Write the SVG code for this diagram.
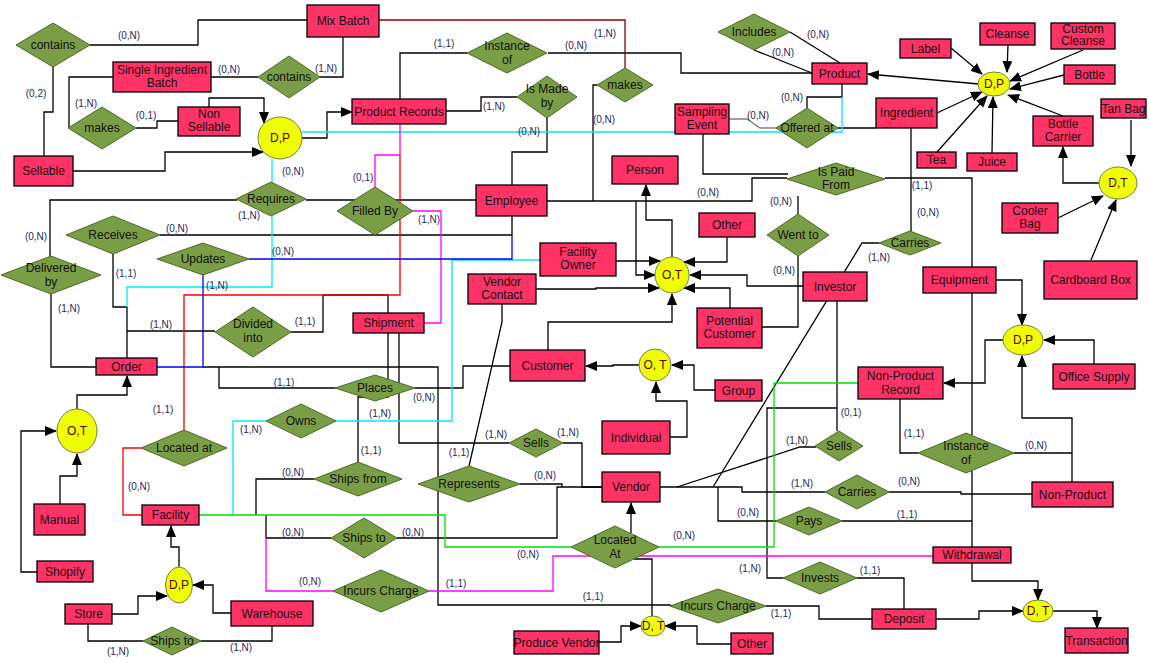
<svg xmlns="http://www.w3.org/2000/svg" width="1149" height="663" viewBox="0 0 1149 663">
<style>
.e rect{fill:#FF3366;stroke:#000;stroke-width:1.3}
.r polygon{fill:#7A9E46;stroke:#4B6B25;stroke-width:1}
.c ellipse{fill:#EEFF00;stroke:#7A7A50;stroke-width:1}
text{font-family:"Liberation Sans",Arial,sans-serif;font-size:12px;text-anchor:middle;fill:#111}
.c text{fill:#5A0000}
.lb text{font-size:10px;fill:#1F2A5A}
#connectors path{fill:none;stroke:#000;stroke-width:1.3}
#connectors path.cy{stroke:#00E8FF}
#connectors path.mg{stroke:#FF00FF}
#connectors path.rd{stroke:#FF0000}
#connectors path.dr{stroke:#8B0000}
#connectors path.gn{stroke:#00E000}
#connectors path.bl{stroke:#0000EE}
#connectors path.gy{stroke:#808080}
</style>
<defs>
<marker id="a" markerWidth="12" markerHeight="10" refX="11" refY="5" orient="auto" markerUnits="userSpaceOnUse"><path d="M0,0 L12,5 L0,10 z" fill="#000"/></marker>
</defs>
<rect width="1149" height="663" fill="#fff"/>
<g id="connectors">
<path d="M90,45 H198 V20 H307"/>
<path d="M53,67 V112 H44 V156"/>
<path d="M113,77 H69 V128"/>
<path d="M211,77 H258"/>
<path d="M136,128 H157 V121 H178"/>
<path d="M209,107 V98 H264 V123" marker-end="url(#a)"/>
<path d="M73,171 H165 V152 H263" marker-end="url(#a)"/>
<path d="M343,37 V77 H319"/>
<path d="M400,99 V53 H467"/>
<path d="M548,53 H681 V73 H812"/>
<path d="M446,111 H481 V97 H517"/>
<path d="M302,138 H327 V112 H352" marker-end="url(#a)"/>
<path d="M790,32 L840,63"/>
<path d="M754,50 L812,73"/>
<path d="M842,84 V97 H807 V108"/>
<path d="M838,128 H876"/>
<path class="gy" d="M729,119 H747 L760,128 H777"/>
<path d="M547,118 V152 H512 V185"/>
<path d="M237,200 H50 V256"/>
<path d="M306,200 H476"/>
<path d="M547,201 H752 V178 H787"/>
<path d="M593,201 V85 H597"/>
<path d="M636,201 V275 H655" marker-end="url(#a)"/>
<path d="M672,257 V220 H646 V185" marker-end="url(#a)"/>
<path d="M703,134 V174 H788"/>
<path d="M885,178 H972 V547"/>
<path d="M798,196 V214"/>
<path d="M762,327 H798 V256"/>
<path d="M911,128 V231"/>
<path d="M879,243 H862 L713,487"/>
<path d="M160,235 H512 V216"/>
<path d="M127,307 H113 V254"/>
<path d="M127,358 V307"/>
<path d="M127,331 H215"/>
<path d="M51,294 V367 H96"/>
<path d="M291,332 H323 V295 H388 V313"/>
<path d="M203,367 H438 V605 H671"/>
<path d="M219,367 V388 H335"/>
<path d="M77,409 V395 H127 V376" marker-end="url(#a)"/>
<path d="M37,572 H21 V431 H56" marker-end="url(#a)"/>
<path d="M60,504 V476 H77 V454" marker-end="url(#a)"/>
<path d="M415,388 H463 V366 H510"/>
<path d="M358,462 V397 H388 V333"/>
<path d="M399,333 V443 H509"/>
<path d="M563,443 H582 V487 H602"/>
<path d="M502,304 V322 L469,466"/>
<path d="M520,484 H562 V487"/>
<path d="M397,538 H557 V487 H602"/>
<path d="M256,515 V479 H314"/>
<path d="M266,515 V538 H331"/>
<path d="M548,350 V322 H672 V294" marker-end="url(#a)"/>
<path d="M616,261 H660" marker-end="url(#a)"/>
<path d="M536,289 H596 V288 H659" marker-end="url(#a)"/>
<path d="M727,237 V262 H684" marker-end="url(#a)"/>
<path d="M803,286 H747 V275 H690" marker-end="url(#a)"/>
<path d="M730,308 V288 H684" marker-end="url(#a)"/>
<path d="M639,365 H613 V366 H586" marker-end="url(#a)"/>
<path d="M715,390 H694 V365 H672" marker-end="url(#a)"/>
<path d="M670,437 H687 V401 H656 V382" marker-end="url(#a)"/>
<path d="M660,487 H742 V492 H825"/>
<path d="M718,487 V521 H776"/>
<path d="M816,447 H800 L677,487"/>
<path d="M837,301 V431"/>
<path d="M837,408 H767 V578 H783"/>
<path d="M842,521 H972"/>
<path d="M889,492 H961 V494 H1032"/>
<path d="M900,399 V453 H918"/>
<path d="M1014,453 H1072"/>
<path d="M1072,482 V418 H1022 V356" marker-end="url(#a)"/>
<path d="M1003,340 H985 V383 H944" marker-end="url(#a)"/>
<path d="M996,280 H1022 V325" marker-end="url(#a)"/>
<path d="M1094,364 V340 H1044" marker-end="url(#a)"/>
<path d="M857,578 H904 V609"/>
<path d="M972,563 V581 H1038 V600" marker-end="url(#a)"/>
<path d="M936,619 H979 V611 H1023" marker-end="url(#a)"/>
<path d="M1053,611 H1097 V628" marker-end="url(#a)"/>
<path d="M766,606 H819 V619 H872"/>
<path d="M631,533 V503" marker-end="url(#a)"/>
<path d="M634,559 H652 V616"/>
<path d="M599,642 H621 V626 H641" marker-end="url(#a)"/>
<path d="M731,644 H697 V626 H665" marker-end="url(#a)"/>
<path d="M179,567 V547 H171 V526" marker-end="url(#a)"/>
<path d="M112,614 H138 V596 H167" marker-end="url(#a)"/>
<path d="M231,613 H213 V585 H193" marker-end="url(#a)"/>
<path d="M88,624 V641 H143"/>
<path d="M201,641 H272 V626"/>
<path d="M979,84 L868,74" marker-end="url(#a)"/>
<path d="M951,48 L982,74" marker-end="url(#a)"/>
<path d="M1008,45 L1007,72" marker-end="url(#a)"/>
<path d="M1083,50 L1010,81" marker-end="url(#a)"/>
<path d="M1064,75 L1010,89" marker-end="url(#a)"/>
<path d="M1063,116 L1008,95" marker-end="url(#a)"/>
<path d="M992,153 L993,97" marker-end="url(#a)"/>
<path d="M937,152 L987,96" marker-end="url(#a)"/>
<path d="M937,113 L982,92" marker-end="url(#a)"/>
<path d="M1099,183 H1063 V147" marker-end="url(#a)"/>
<path d="M1131,120 V166" marker-end="url(#a)"/>
<path d="M1058,218 L1103,196" marker-end="url(#a)"/>
<path d="M1091,260 L1116,200" marker-end="url(#a)"/>
<path class="cy" d="M302,132 H842 V97"/>
<path class="cy" d="M272,159 V287 H127 V307"/>
<path class="cy" d="M233,515 V421 H266"/>
<path class="cy" d="M335,421 H452 V260 H540"/>
<path class="mg" d="M400,124 V155 H375 V187"/>
<path class="mg" d="M413,211 H441 V323 H424"/>
<path class="mg" d="M266,538 V591 H333"/>
<path class="mg" d="M429,591 H553 V556 H933"/>
<path class="rd" d="M400,155 V295 H184 V430"/>
<path class="rd" d="M141,448 H123 V515 H142"/>
<path class="dr" d="M379,20 H625 V68"/>
<path class="gn" d="M199,515 H445 V547 H571"/>
<path class="gn" d="M659,547 H774 V383 H858"/>
<path class="bl" d="M157,367 H203 V275"/>
<path class="bl" d="M249,259 H512 V235"/>
</g>
<g class="lb" id="labels">
<text x="129" y="39">(0,N)</text>
<text x="36" y="97">(0,2)</text>
<text x="86" y="107">(1,N)</text>
<text x="229" y="73">(0,N)</text>
<text x="146" y="119">(0,1)</text>
<text x="326" y="72">(1,N)</text>
<text x="444" y="47">(1,1)</text>
<text x="576" y="49">(0,N)</text>
<text x="605" y="37">(1,N)</text>
<text x="494" y="110">(1,N)</text>
<text x="529" y="135">(0,N)</text>
<text x="604" y="123">(0,N)</text>
<text x="818" y="38">(0,N)</text>
<text x="783" y="56">(0,N)</text>
<text x="758" y="119">(0,N)</text>
<text x="792" y="101">(0,N)</text>
<text x="293" y="175">(0,N)</text>
<text x="249" y="219">(1,N)</text>
<text x="363" y="181">(0,1)</text>
<text x="429" y="223">(1,N)</text>
<text x="708" y="196">(0,N)</text>
<text x="781" y="205">(0,N)</text>
<text x="922" y="189">(1,1)</text>
<text x="928" y="216">(0,N)</text>
<text x="36" y="240">(0,N)</text>
<text x="177" y="232">(0,N)</text>
<text x="283" y="255">(0,N)</text>
<text x="126" y="277">(1,1)</text>
<text x="217" y="289">(1,N)</text>
<text x="69" y="312">(1,N)</text>
<text x="161" y="328">(1,N)</text>
<text x="305" y="325">(1,1)</text>
<text x="784" y="274">(0,N)</text>
<text x="879" y="261">(1,N)</text>
<text x="284" y="386">(1,1)</text>
<text x="424" y="401">(0,N)</text>
<text x="380" y="417">(1,N)</text>
<text x="251" y="433">(1,N)</text>
<text x="163" y="413">(1,1)</text>
<text x="496" y="438">(1,N)</text>
<text x="568" y="436">(1,N)</text>
<text x="851" y="416">(0,1)</text>
<text x="797" y="444">(1,N)</text>
<text x="914" y="437">(1,1)</text>
<text x="1036" y="449">(0,N)</text>
<text x="139" y="490">(0,N)</text>
<text x="293" y="476">(0,N)</text>
<text x="371" y="454">(1,1)</text>
<text x="459" y="456">(1,1)</text>
<text x="545" y="479">(0,N)</text>
<text x="802" y="487">(1,N)</text>
<text x="909" y="485">(0,N)</text>
<text x="748" y="516">(0,N)</text>
<text x="907" y="518">(1,1)</text>
<text x="293" y="536">(0,N)</text>
<text x="413" y="536">(0,N)</text>
<text x="528" y="558">(0,N)</text>
<text x="684" y="539">(0,N)</text>
<text x="310" y="585">(0,N)</text>
<text x="456" y="587">(1,1)</text>
<text x="750" y="572">(1,N)</text>
<text x="870" y="574">(1,1)</text>
<text x="593" y="600">(1,1)</text>
<text x="781" y="617">(1,1)</text>
<text x="118" y="655">(1,N)</text>
<text x="241" y="651">(1,N)</text>
</g>
<g id="contains1" class="r"><polygon points="16,45 53,23 90,45 53,67"/><text x="53" y="49">contains</text></g>
<g id="contains2" class="r"><polygon points="258,77 289,56 320,77 289,98"/><text x="289" y="81">contains</text></g>
<g id="makes1" class="r"><polygon points="68,128 102,107 136,128 102,149"/><text x="102" y="132">makes</text></g>
<g id="instanceOf1" class="r"><polygon points="467,53 507,33 547,53 507,73"/><text x="507" y="50">Instance<tspan x="507" dy="14">of</tspan></text></g>
<g id="isMadeBy" class="r"><polygon points="517,97 547,76 577,97 547,118"/><text x="547" y="93">Is Made<tspan x="547" dy="14">by</tspan></text></g>
<g id="makes2" class="r"><polygon points="597,85 625,68 653,85 625,102"/><text x="625" y="89">makes</text></g>
<g id="includes" class="r"><polygon points="718,32 754,14 790,32 754,50"/><text x="754" y="36">Includes</text></g>
<g id="offeredAt" class="r"><polygon points="776,128 807,108 838,128 807,148"/><text x="807" y="132">Offered at</text></g>
<g id="isPaidFrom" class="r"><polygon points="787,179 836,163 885,179 836,195"/><text x="836" y="176">Is Paid<tspan x="836" dy="13">From</tspan></text></g>
<g id="requires" class="r"><polygon points="236,199 271,182 306,199 271,216"/><text x="271" y="203">Requires</text></g>
<g id="filledBy" class="r"><polygon points="337,211 375,187 413,211 375,235"/><text x="375" y="215">Filled By</text></g>
<g id="receives" class="r"><polygon points="66,235 113,216 160,235 113,254"/><text x="113" y="239">Receives</text></g>
<g id="updates" class="r"><polygon points="157,259 203,243 249,259 203,275"/><text x="203" y="263">Updates</text></g>
<g id="deliveredBy" class="r"><polygon points="1,275 51,256 101,275 51,294"/><text x="51" y="272">Delivered<tspan x="51" dy="14">by</tspan></text></g>
<g id="dividedInto" class="r"><polygon points="215,332 253,307 291,332 253,357"/><text x="253" y="328">Divided<tspan x="253" dy="14">into</tspan></text></g>
<g id="wentTo" class="r"><polygon points="767,235 798,214 829,235 798,256"/><text x="798" y="239">Went to</text></g>
<g id="carries1" class="r"><polygon points="879,243 910,231 941,243 910,255"/><text x="910" y="247">Carries</text></g>
<g id="places" class="r"><polygon points="335,388 375,375 415,388 375,401"/><text x="375" y="392">Places</text></g>
<g id="owns" class="r"><polygon points="266,421 301,404 336,421 301,438"/><text x="301" y="425">Owns</text></g>
<g id="locatedAt1" class="r"><polygon points="141,448 184,430 227,448 184,466"/><text x="184" y="452">Located at</text></g>
<g id="sells1" class="r"><polygon points="509,443 536,429 563,443 536,457"/><text x="536" y="447">Sells</text></g>
<g id="sells2" class="r"><polygon points="815,446 839,431 863,446 839,461"/><text x="839" y="450">Sells</text></g>
<g id="shipsFrom" class="r"><polygon points="314,479 358,462 402,479 358,496"/><text x="358" y="483">Ships from</text></g>
<g id="represents" class="r"><polygon points="418,484 469,466 520,484 469,502"/><text x="469" y="488">Represents</text></g>
<g id="carries2" class="r"><polygon points="825,492 857,475 889,492 857,509"/><text x="857" y="496">Carries</text></g>
<g id="pays" class="r"><polygon points="776,521 809,507 842,521 809,535"/><text x="809" y="525">Pays</text></g>
<g id="instanceOf2" class="r"><polygon points="918,453 966,433 1014,453 966,473"/><text x="966" y="450">Instance<tspan x="966" dy="14">of</tspan></text></g>
<g id="shipsTo1" class="r"><polygon points="331,538 364,518 397,538 364,558"/><text x="364" y="542">Ships to</text></g>
<g id="locatedAt2" class="r"><polygon points="571,547 615,526 659,547 615,568"/><text x="615" y="544">Located<tspan x="615" dy="14">At</tspan></text></g>
<g id="incursCharge1" class="r"><polygon points="333,591 381,570 429,591 381,612"/><text x="381" y="595">Incurs Charge</text></g>
<g id="invests" class="r"><polygon points="783,578 820,562 857,578 820,594"/><text x="820" y="582">Invests</text></g>
<g id="incursCharge2" class="r"><polygon points="670,606 718,589 766,606 718,623"/><text x="718" y="610">Incurs Charge</text></g>
<g id="shipsTo2" class="r"><polygon points="143,641 172,627 201,641 172,655"/><text x="172" y="645">Ships to</text></g>
<g id="mixBatch" class="e"><rect x="307" y="5" width="72" height="32"/><text x="343" y="25">Mix Batch</text></g>
<g id="singleIngredientBatch" class="e"><rect x="113" y="62" width="98" height="30"/><text x="162" y="74">Single Ingredient<tspan x="162" dy="13">Batch</tspan></text></g>
<g id="nonSellable" class="e"><rect x="178" y="107" width="62" height="29"/><text x="209" y="118">Non<tspan x="209" dy="13">Sellable</tspan></text></g>
<g id="sellable" class="e"><rect x="14" y="156" width="59" height="30"/><text x="43.5" y="175">Sellable</text></g>
<g id="productRecords" class="e"><rect x="352" y="99" width="94" height="25"/><text x="399" y="116">Product Records</text></g>
<g id="employee" class="e"><rect x="476" y="185" width="71" height="31"/><text x="511.5" y="205">Employee</text></g>
<g id="product" class="e"><rect x="812" y="63" width="55" height="21"/><text x="839.5" y="78">Product</text></g>
<g id="samplingEvent" class="e"><rect x="675" y="104" width="54" height="30"/><text x="702" y="116">Sampling<tspan x="702" dy="13">Event</tspan></text></g>
<g id="person" class="e"><rect x="612" y="156" width="66" height="28"/><text x="645" y="174">Person</text></g>
<g id="ingredient" class="e"><rect x="876" y="98" width="61" height="30"/><text x="906.5" y="117">Ingredient</text></g>
<g id="label" class="e"><rect x="900" y="39" width="51" height="19"/><text x="925.5" y="53">Label</text></g>
<g id="cleanse" class="e"><rect x="980" y="23" width="55" height="22"/><text x="1007.5" y="38">Cleanse</text></g>
<g id="customCleanse" class="e"><rect x="1051" y="23" width="64" height="26"/><text x="1083" y="33">Custom<tspan x="1083" dy="12">Cleanse</tspan></text></g>
<g id="bottle" class="e"><rect x="1064" y="65" width="51" height="19"/><text x="1089.5" y="79">Bottle</text></g>
<g id="tea" class="e"><rect x="917" y="152" width="39" height="16"/><text x="936.5" y="164">Tea</text></g>
<g id="juice" class="e"><rect x="967" y="153" width="50" height="18"/><text x="992" y="166">Juice</text></g>
<g id="bottleCarrier" class="e"><rect x="1033" y="116" width="60" height="30"/><text x="1063" y="128">Bottle<tspan x="1063" dy="13">Carrier</tspan></text></g>
<g id="tanBag" class="e"><rect x="1101" y="99" width="45" height="19"/><text x="1123.5" y="113">Tan Bag</text></g>
<g id="coolerBag" class="e"><rect x="1002" y="203" width="56" height="30"/><text x="1030" y="215">Cooler<tspan x="1030" dy="13">Bag</tspan></text></g>
<g id="cardboardBox" class="e"><rect x="1044" y="261" width="93" height="38"/><text x="1090.5" y="284">Cardboard Box</text></g>
<g id="equipment" class="e"><rect x="923" y="267" width="73" height="26"/><text x="959.5" y="284">Equipment</text></g>
<g id="officeSupply" class="e"><rect x="1053" y="364" width="82" height="25"/><text x="1094" y="381">Office Supply</text></g>
<g id="nonProductRecord" class="e"><rect x="858" y="367" width="85" height="32"/><text x="900.5" y="380">Non-Product<tspan x="900.5" dy="14">Record</tspan></text></g>
<g id="nonProduct" class="e"><rect x="1032" y="482" width="81" height="25"/><text x="1072.5" y="499">Non-Product</text></g>
<g id="withdrawal" class="e"><rect x="933" y="547" width="78" height="16"/><text x="972" y="559">Withdrawal</text></g>
<g id="deposit" class="e"><rect x="872" y="609" width="64" height="20"/><text x="904" y="623">Deposit</text></g>
<g id="transaction" class="e"><rect x="1065" y="628" width="63" height="25"/><text x="1096.5" y="645">Transaction</text></g>
<g id="investor" class="e"><rect x="803" y="272" width="64" height="29"/><text x="835" y="291">Investor</text></g>
<g id="otherPerson" class="e"><rect x="699" y="213" width="56" height="24"/><text x="727" y="229">Other</text></g>
<g id="potentialCustomer" class="e"><rect x="697" y="308" width="65" height="40"/><text x="729.5" y="325">Potential<tspan x="729.5" dy="13">Customer</tspan></text></g>
<g id="facilityOwner" class="e"><rect x="540" y="243" width="76" height="33"/><text x="578" y="256">Facility<tspan x="578" dy="13">Owner</tspan></text></g>
<g id="vendorContact" class="e"><rect x="468" y="274" width="68" height="30"/><text x="502" y="286">Vendor<tspan x="502" dy="13">Contact</tspan></text></g>
<g id="shipment" class="e"><rect x="353" y="313" width="71" height="20"/><text x="388.5" y="327">Shipment</text></g>
<g id="customer" class="e"><rect x="510" y="350" width="75" height="31"/><text x="547.5" y="370">Customer</text></g>
<g id="group" class="e"><rect x="715" y="380" width="47" height="21"/><text x="738.5" y="395">Group</text></g>
<g id="individual" class="e"><rect x="602" y="421" width="68" height="33"/><text x="636" y="442">Individual</text></g>
<g id="order" class="e"><rect x="96" y="358" width="61" height="17"/><text x="126.5" y="371">Order</text></g>
<g id="manual" class="e"><rect x="34" y="504" width="51" height="31"/><text x="59.5" y="524">Manual</text></g>
<g id="shopify" class="e"><rect x="37" y="561" width="56" height="21"/><text x="65" y="576">Shopify</text></g>
<g id="facility" class="e"><rect x="142" y="505" width="57" height="20"/><text x="170.5" y="519">Facility</text></g>
<g id="store" class="e"><rect x="65" y="604" width="47" height="20"/><text x="88.5" y="618">Store</text></g>
<g id="warehouse" class="e"><rect x="231" y="601" width="82" height="25"/><text x="272" y="618">Warehouse</text></g>
<g id="vendor" class="e"><rect x="602" y="472" width="58" height="30"/><text x="631" y="491">Vendor</text></g>
<g id="produceVendor" class="e"><rect x="514" y="631" width="85" height="23"/><text x="556.5" y="647">Produce Vendor</text></g>
<g id="otherVendor" class="e"><rect x="731" y="633" width="42" height="21"/><text x="752" y="648">Other</text></g>
<g id="dpMain" class="c"><ellipse cx="280" cy="138" rx="22" ry="21"/><text x="280" y="142">D,P</text></g>
<g id="dpProduct" class="c"><ellipse cx="994" cy="84" rx="16" ry="12"/><text x="994" y="88">D,P</text></g>
<g id="dtPackaging" class="c"><ellipse cx="1118" cy="183" rx="19" ry="16"/><text x="1118" y="187">D,T</text></g>
<g id="otPerson" class="c"><ellipse cx="672" cy="275" rx="17" ry="18"/><text x="672" y="279">O,T</text></g>
<g id="otCustomer" class="c"><ellipse cx="655" cy="365" rx="16" ry="16"/><text x="655" y="369">O, T</text></g>
<g id="otOrder" class="c"><ellipse cx="77" cy="431" rx="20" ry="22"/><text x="77" y="435">O,T</text></g>
<g id="dpNonProduct" class="c"><ellipse cx="1023" cy="340" rx="20" ry="15"/><text x="1023" y="344">D,P</text></g>
<g id="dtTransaction" class="c"><ellipse cx="1038" cy="611" rx="15" ry="11"/><text x="1038" y="615">D, T</text></g>
<g id="dpFacility" class="c"><ellipse cx="179" cy="585" rx="13.5" ry="18"/><text x="179" y="589">D,P</text></g>
<g id="dtVendor" class="c"><ellipse cx="653" cy="626" rx="12" ry="10"/><text x="653" y="630">D, T</text></g>
</svg>
